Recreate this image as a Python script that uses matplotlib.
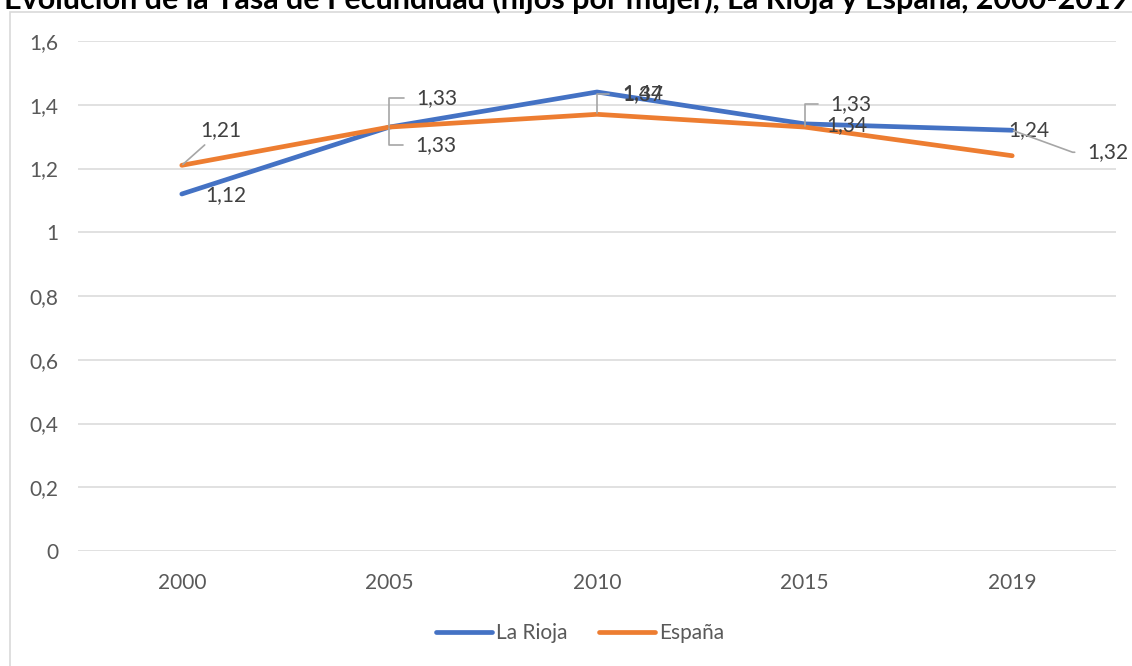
import matplotlib
matplotlib.use("Agg")
import matplotlib.pyplot as plt
from matplotlib.patches import Rectangle

years = ["2000", "2005", "2010", "2015", "2019"]
rioja = [1.12, 1.33, 1.44, 1.34, 1.32]
espana = [1.21, 1.33, 1.37, 1.33, 1.24]
yticks = [0, 0.2, 0.4, 0.6, 0.8, 1, 1.2, 1.4, 1.6]
title = "Evolución de la Tasa de Fecundidad (hijos por mujer), La Rioja y España, 2000-2019"

plt.rcParams["font.family"] = ["Lato", "DejaVu Sans"]

fig = plt.figure(figsize=(11.32, 6.66), dpi=100)
ax = fig.add_axes([78 / 1132, 1 - 551 / 666, 1038 / 1132, 510 / 666])

# chart frame
fig.patches.append(Rectangle((10 / 1132, -0.1), 1.2, 1 - 12 / 666 + 0.1,
                             transform=fig.transFigure, fill=False,
                             edgecolor="#d9d9d9", linewidth=1.2))
fig.text(566 / 1132, 1 - 9 / 666, title, ha="center", va="baseline",
         fontsize=22, fontweight="bold", color="black")

x = range(len(years))
ax.plot(x, rioja, color="#4472C4", linewidth=3.4, label="La Rioja",
        solid_capstyle="round")
ax.plot(x, espana, color="#ED7D31", linewidth=3.4, label="España",
        solid_capstyle="round")

ax.set_xlim(-0.5, len(years) - 0.5)
ax.set_ylim(0, 1.6)
ax.set_yticks(yticks)
ax.set_yticklabels([str(v).replace(".", ",") for v in yticks])
ax.set_xticks(list(x))
ax.set_xticklabels(years)
ax.grid(axis="y", color="#d9d9d9", linewidth=1.1)
ax.set_axisbelow(True)
for s in ax.spines.values():
    s.set_visible(False)
ax.tick_params(length=0, labelsize=15, colors="#595959")
ax.tick_params(axis="y", pad=14)
ax.tick_params(axis="x", pad=16)

def fmt(v):
    return ("%.2f" % v).replace(".", ",")

lead = dict(arrowstyle="-", color="#a6a6a6", lw=1.2, relpos=(0, 0.5),
            shrinkA=7, shrinkB=1)

# (index, series, offset in pixels, connection style or None)
labels = [
    (0, rioja, (23, -1), None),
    (0, espana, (18, 35), "arc3"),
    (1, rioja, (27, 29), "angle,angleA=0,angleB=90,rad=0"),
    (1, espana, (26, -18), "angle,angleA=0,angleB=90,rad=0"),
    (2, rioja, (25, -1), None),
    (2, espana, (25, 20), "angle,angleA=0,angleB=90,rad=0"),
    (3, espana, (26, 23), "angle,angleA=0,angleB=90,rad=0"),
    (3, rioja, (22, -1), None),
    (4, espana, (-4, 26), None),
    (4, rioja, (75, -22), "angle,angleA=0,angleB=-20,rad=0"),
]
for i, series, off, cs in labels:
    props = None
    if cs is not None:
        props = dict(lead, connectionstyle=cs)
        if cs == "arc3":
            props["relpos"] = (0.3, 0.1)
            props["shrinkA"] = 2
    ax.annotate(fmt(series[i]), xy=(i, series[i]), xytext=off,
                textcoords="offset pixels", ha="left", va="center",
                fontsize=15, color="#404040", arrowprops=props,
                annotation_clip=False)

ax.legend(loc="center", bbox_to_anchor=(580 / 1132, 1 - 633 / 666),
          bbox_transform=fig.transFigure, ncol=2, frameon=False,
          fontsize=15, handlelength=2.7, handletextpad=0.2,
          columnspacing=1.5, labelcolor="#595959")

fig.savefig("out.png", dpi=100)
